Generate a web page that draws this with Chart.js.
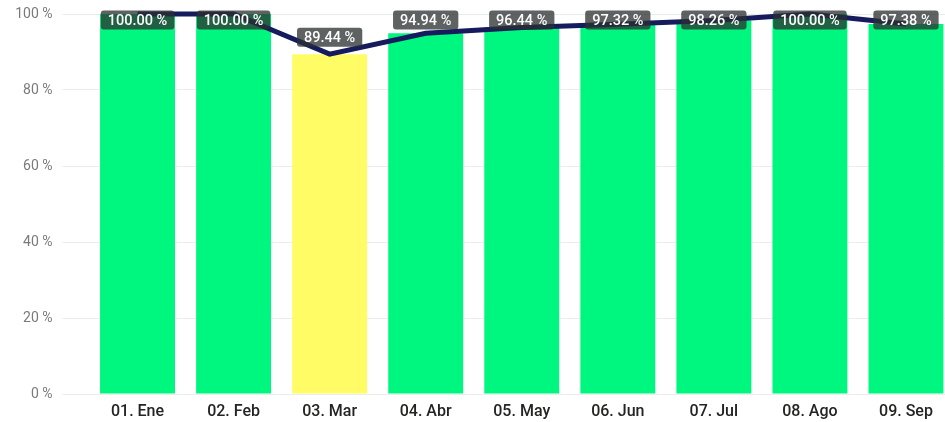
<!DOCTYPE html>
<html>
<head>
<meta charset="utf-8">
<script src="https://cdn.jsdelivr.net/npm/chart.js@4"></script>
<style>
  html, body { margin: 0; padding: 0; background: #fff; overflow: hidden; }
  #wrap { width: 945px; height: 422px; overflow: hidden; }
</style>
</head>
<body>
<div id="wrap"><canvas id="chart" width="954" height="422"></canvas></div>
<script>
// Monthly compliance (%)
const months = ["01. Ene", "02. Feb", "03. Mar", "04. Abr", "05. May", "06. Jun", "07. Jul", "08. Ago", "09. Sep"];
const barValues = [100, 100, 89.44, 94.94, 96.44, 97.32, 98.26, 100, 97.38];
const lineValues = [100, 100, 89.44, 94.94, 96.44, 97.32, 98.26, 100, 97.38];
const yTicks = [0, 20, 40, 60, 80, 100];

const GREEN = "#00F77F";
const YELLOW = "#FFFC66";

// label boxes above the line points (kept inside the plot top)
const valueLabels = {
  id: "valueLabels",
  afterDatasetsDraw(chart) {
    const meta = chart.getDatasetMeta(1);
    const ctx = chart.ctx;
    ctx.save();
    ctx.font = "500 14.5px Roboto";
    ctx.textAlign = "center";
    ctx.textBaseline = "middle";
    meta.data.forEach((pt, i) => {
      const text = lineValues[i].toFixed(2) + " %";
      const w = ctx.measureText(text).width + 14;
      const h = 19;
      const cy = Math.max(pt.y - 17, 20);
      ctx.fillStyle = "rgba(44,48,48,0.76)";
      ctx.beginPath();
      ctx.roundRect(pt.x - w / 2, cy - h / 2, w, h, 3);
      ctx.fill();
      ctx.fillStyle = "#ffffff";
      ctx.fillText(text, pt.x, cy + 1);
    });
    ctx.restore();
  }
};

const ctx = document.getElementById("chart").getContext("2d");
new Chart(ctx, {
  data: {
    labels: months,
    datasets: [
      {
        type: "bar",
        data: barValues,
        backgroundColor: barValues.map((v) => (v < 90 ? YELLOW : GREEN)),
        barPercentage: 0.78,
        categoryPercentage: 1,
        order: 2
      },
      {
        type: "line",
        data: lineValues,
        borderColor: "#151B5C",
        borderWidth: 5,
        pointRadius: 0,
        tension: 0,
        clip: false,
        order: 1
      }
    ]
  },
  options: {
    responsive: false,
    animation: false,
    layout: { padding: { top: 14, right: 0, left: 0, bottom: 0 } },
    plugins: { legend: { display: false }, tooltip: { enabled: false } },
    scales: {
      x: {
        grid: { display: false, drawTicks: false },
        border: { display: false },
        ticks: { color: "#252423", font: { family: "Roboto", size: 16, weight: 500 }, padding: 8 },
        afterFit(scale) {
          scale.height = 28;
          scale.paddingLeft = 0;
          scale.paddingRight = 0;
        }
      },
      y: {
        min: 0,
        max: 100,
        afterBuildTicks(scale) { scale.ticks = yTicks.map((v) => ({ value: v })); },
        grid: { color: "#ececec", lineWidth: 1, drawTicks: true, tickLength: 27, tickColor: "#ececec" },
        border: { display: false },
        ticks: {
          color: "#7a7a7a",
          font: { family: "Roboto", size: 14 },
          padding: 10,
          callback: (v) => v + " %"
        },
        afterFit(scale) {
          scale.width = 89.5;
          scale.paddingTop = 0;
          scale.paddingBottom = 0;
        }
      }
    }
  },
  plugins: [valueLabels]
});
</script>
</body>
</html>
